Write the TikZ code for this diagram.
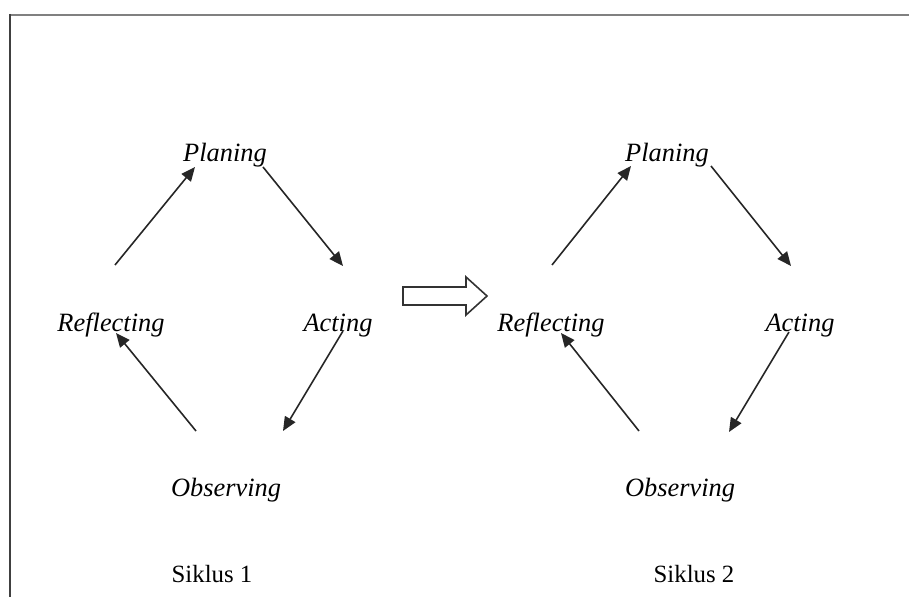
\documentclass[tikz,border=0pt]{standalone}
\usepackage{fontspec}
\setmainfont{Liberation Serif}
\usetikzlibrary{arrows.meta}
\begin{document}
\begin{tikzpicture}[x=0.5pt,y=-0.5pt,
  lbl/.style={inner sep=0pt,anchor=base,font=\fontsize{13.2}{15}\selectfont\itshape},
  captext/.style={inner sep=0pt,anchor=base,font=\fontsize{12.4}{14}\selectfont},
  arr/.style={line width=0.8pt,draw=black!85,-{Triangle[length=7pt,width=6pt]}},
  frame/.style={line width=1.2pt}]
\useasboundingbox (0,0) rectangle (909,597);
% frame
\draw[frame,draw=black!50] (9,15) -- (909,15);
\draw[frame,draw=black!75] (10,14) -- (10,597);
% cycle 1
\node[lbl] (p1) at (225,162) {Planing};
\node[lbl] (r1) at (111,332) {Reflecting};
\node[lbl] (a1) at (338,332) {Acting};
\node[lbl] (o1) at (226,497) {Observing};
\node[captext] (s1) at (212,582) {Siklus 1};
\coordinate (c1a) at (115,265); \coordinate (c1b) at (195,167);
\coordinate (c1c) at (263,167); \coordinate (c1d) at (343,266);
\coordinate (c1e) at (343,331); \coordinate (c1f) at (283,431);
\coordinate (c1g) at (196,431); \coordinate (c1h) at (116,333);
\draw[arr] (c1a) -- (c1b);
\draw[arr] (c1c) -- (c1d);
\draw[arr] (c1e) -- (c1f);
\draw[arr] (c1g) -- (c1h);
% cycle 2
\node[lbl] (p2) at (667,162) {Planing};
\node[lbl] (r2) at (551,332) {Reflecting};
\node[lbl] (a2) at (800,332) {Acting};
\node[lbl] (o2) at (680,497) {Observing};
\node[captext] (s2) at (694,582) {Siklus 2};
\coordinate (c2a) at (552,265); \coordinate (c2b) at (631,166);
\coordinate (c2c) at (711,166); \coordinate (c2d) at (791,266);
\coordinate (c2e) at (789,332); \coordinate (c2f) at (729,432);
\coordinate (c2g) at (639,431); \coordinate (c2h) at (561,333);
\draw[arr] (c2a) -- (c2b);
\draw[arr] (c2c) -- (c2d);
\draw[arr] (c2e) -- (c2f);
\draw[arr] (c2g) -- (c2h);
% block arrow
\draw[line width=0.8pt,draw=black!80,line join=miter]
  (403,287) -- (466,287) -- (466,277) -- (487,296) -- (466,315) -- (466,305) -- (403,305) -- cycle;
\end{tikzpicture}
\end{document}
